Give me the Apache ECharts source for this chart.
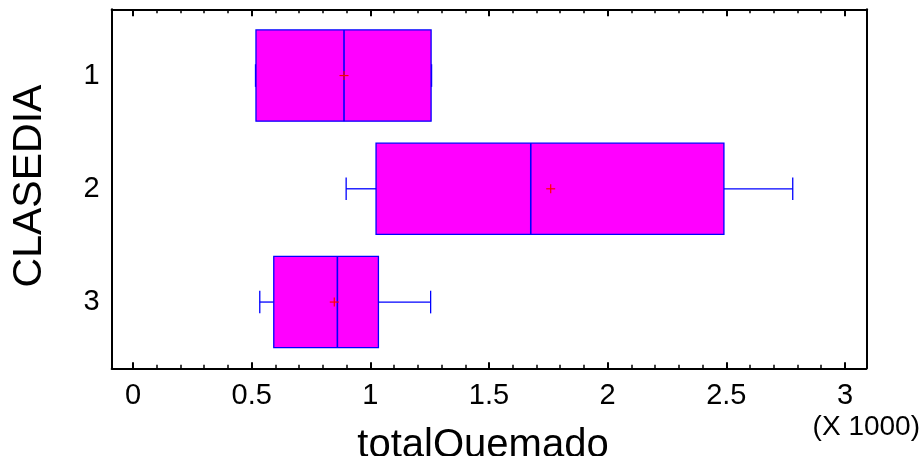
<!DOCTYPE html>
<html>
<head>
<meta charset="utf-8">
<script src="https://cdn.jsdelivr.net/npm/echarts@6/dist/echarts.min.js"></script>
<style>
    html, body { margin: 0; padding: 0; background: #ffffff; }
    #area { width: 923px; height: 456px; }
</style>
</head>
<body>
<div id="area"></div>
<script>
// categories of CLASEDIA (top to bottom)
var categories = ['1', '2', '3'];
// totalQuemado box statistics per category
var minValues = [516, 898, 534];
var q1Values = [518, 1024, 593];
var medianValues = [889, 1676, 861];
var q3Values = [1256, 2490, 1034];
var maxValues = [1258, 2780, 1254];
var meanValues = [889, 1760, 848];
// tick positions on the x axis
var majorTicks = [0, 500, 1000, 1500, 2000, 2500, 3000];
var minorTicks = [100, 200, 300, 400, 600, 700, 800, 900, 1100, 1200, 1300, 1400,
    1600, 1700, 1800, 1900, 2100, 2200, 2300, 2400, 2600, 2700, 2800, 2900];

var fontName = '"Liberation Sans", Arial, sans-serif';

var boxData = categories.map(function (c, i) {
    return [i + 1, minValues[i], q1Values[i], medianValues[i], q3Values[i], maxValues[i], meanValues[i]];
});

function renderBox(params, api) {
    var y = api.value(0);
    var half = 0.403;   // half box height in category units
    var capHalf = 0.1;  // half whisker cap height
    var pMin = api.coord([api.value(1), y]);
    var pQ1 = api.coord([api.value(2), y]);
    var pMed = api.coord([api.value(3), y]);
    var pQ3 = api.coord([api.value(4), y]);
    var pMax = api.coord([api.value(5), y]);
    var pMean = api.coord([api.value(6), y]);
    var top = api.coord([api.value(2), y - half])[1];
    var bottom = api.coord([api.value(2), y + half])[1];
    var capTop = api.coord([api.value(1), y - capHalf])[1];
    var capBottom = api.coord([api.value(1), y + capHalf])[1];
    var blue = { stroke: '#0000ff', lineWidth: 1.3 };
    var red = { stroke: '#ff0000', lineWidth: 1.2 };
    return {
        type: 'group',
        children: [
            { type: 'line', shape: { x1: pMin[0], y1: pMin[1], x2: pQ1[0], y2: pQ1[1] }, style: blue },
            { type: 'line', shape: { x1: pQ3[0], y1: pQ3[1], x2: pMax[0], y2: pMax[1] }, style: blue },
            { type: 'line', shape: { x1: pMin[0], y1: capTop, x2: pMin[0], y2: capBottom }, style: blue },
            { type: 'line', shape: { x1: pMax[0], y1: capTop, x2: pMax[0], y2: capBottom }, style: blue },
            {
                type: 'rect',
                shape: { x: pQ1[0], y: top, width: pQ3[0] - pQ1[0], height: bottom - top },
                style: { fill: '#ff00ff', stroke: '#0000ff', lineWidth: 1.3 }
            },
            { type: 'line', shape: { x1: pMed[0], y1: top, x2: pMed[0], y2: bottom }, style: { stroke: '#0000ff', lineWidth: 1.6 } },
            { type: 'line', shape: { x1: pMean[0] - 4.5, y1: pMean[1], x2: pMean[0] + 4.5, y2: pMean[1] }, style: red },
            { type: 'line', shape: { x1: pMean[0], y1: pMean[1] - 4.5, x2: pMean[0], y2: pMean[1] + 4.5 }, style: red }
        ]
    };
}

function xAxisDef(position, ticks, len, width, withLine, withLabel) {
    return {
        type: 'value',
        position: position,
        min: -90,
        max: 3090,
        axisLine: { show: withLine, onZero: false, lineStyle: { color: '#000000', width: 2 } },
        axisTick: {
            show: true,
            inside: true,
            length: len,
            customValues: ticks,
            lineStyle: { color: '#000000', width: width }
        },
        axisLabel: {
            show: withLabel,
            customValues: ticks,
            margin: 13,
            fontSize: 29,
            fontFamily: fontName,
            color: '#000000',
            formatter: function (v) { return String(v / 1000); }
        },
        splitLine: { show: false }
    };
}

function yAxisDef(position, withLabel) {
    return {
        type: 'value',
        position: position,
        inverse: true,
        min: 0.415,
        max: 3.585,
        axisLine: { show: true, onZero: false, lineStyle: { color: '#000000', width: 2 } },
        axisTick: { show: false },
        axisLabel: {
            show: withLabel,
            customValues: [1, 2, 3],
            margin: 12,
            fontSize: 29,
            fontFamily: fontName,
            color: '#000000',
            formatter: function (v) { return categories[Math.round(v) - 1]; }
        },
        splitLine: { show: false }
    };
}

var chart = echarts.init(document.getElementById('area'));
chart.setOption({
    animation: false,
    backgroundColor: '#ffffff',
    grid: { left: 111.7, right: 56.7, top: 9.3, bottom: 87.7, containLabel: false },
    xAxis: [
        xAxisDef('bottom', majorTicks, 6, 2, true, true),
        xAxisDef('bottom', minorTicks, 3.5, 1.5, false, false),
        xAxisDef('top', majorTicks, 7, 2, true, false),
        xAxisDef('top', minorTicks, 4, 1.5, false, false)
    ],
    yAxis: [
        yAxisDef('left', true),
        yAxisDef('right', false)
    ],
    graphic: [
        {
            type: 'text',
            x: 30,
            y: 186,
            rotation: Math.PI / 2,
            style: {
                text: 'CLASEDIA',
                font: '41px ' + fontName,
                fill: '#000000',
                textAlign: 'center',
                textVerticalAlign: 'middle'
            }
        },
        {
            type: 'text',
            x: 483,
            y: 446,
            style: {
                text: 'totalQuemado',
                font: '40px ' + fontName,
                fill: '#000000',
                textAlign: 'center',
                textVerticalAlign: 'middle'
            }
        },
        {
            type: 'text',
            x: 920,
            y: 427,
            style: {
                text: '(X 1000)',
                font: '28px ' + fontName,
                fill: '#000000',
                textAlign: 'right',
                textVerticalAlign: 'middle'
            }
        }
    ],
    series: [
        {
            type: 'custom',
            xAxisIndex: 0,
            yAxisIndex: 0,
            renderItem: renderBox,
            encode: { x: [1, 2, 3, 4, 5, 6], y: 0 },
            data: boxData
        }
    ]
});
</script>
</body>
</html>
